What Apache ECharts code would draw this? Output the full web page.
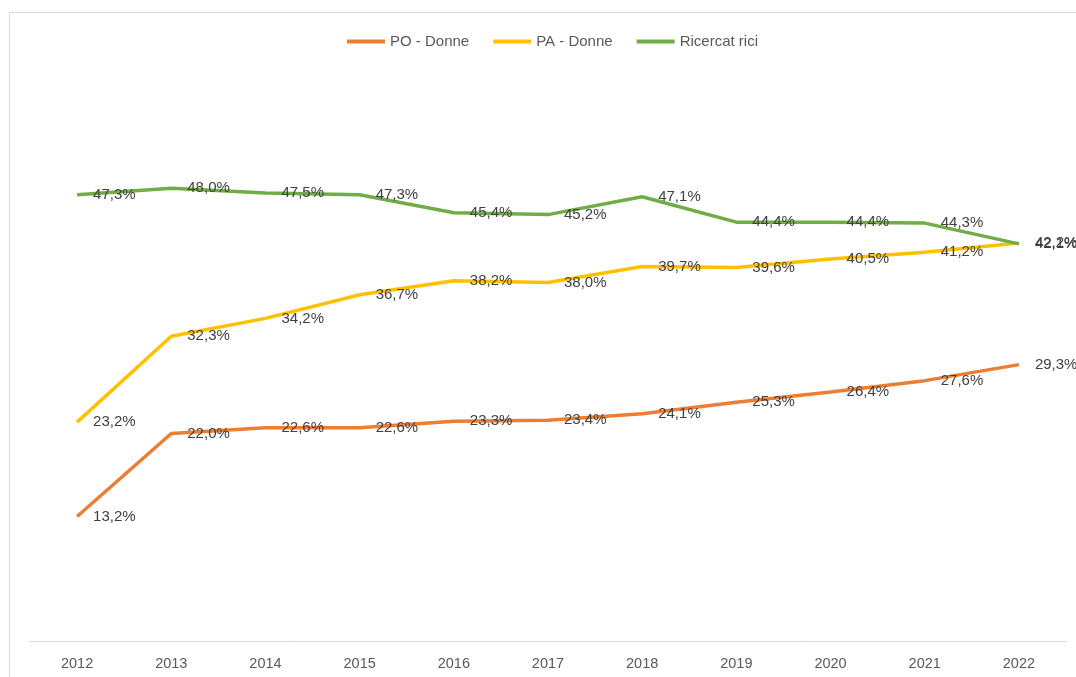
<!DOCTYPE html>
<html>
<head>
<meta charset="utf-8">
<script src="https://cdn.jsdelivr.net/npm/echarts@6/dist/echarts.min.js"></script>
<style>
html,body{margin:0;padding:0;background:#fff;}
#c{width:1076px;height:677px;}
</style>
</head>
<body>
<div id="c"></div>
<script>
const years = ['2012','2013','2014','2015','2016','2017','2018','2019','2020','2021','2022'];
const poDonne = [13.2, 22.0, 22.6, 22.6, 23.3, 23.4, 24.1, 25.3, 26.4, 27.6, 29.3];
const paDonne = [23.2, 32.3, 34.2, 36.7, 38.2, 38.0, 39.7, 39.6, 40.5, 41.2, 42.2];
const ricercatrici = [47.3, 48.0, 47.5, 47.3, 45.4, 45.2, 47.1, 44.4, 44.4, 44.3, 42.1];
const seriesNames = ['PO - Donne', 'PA - Donne', 'Ricercat rici'];
const colors = ['#ED7D31', '#FFC000', '#70AD47'];

const fontFam = '"Liberation Sans", "DejaVu Sans", sans-serif';
function mk(name, data, color){
  return {
    name: name, type: 'line', data: data,
    symbol: 'circle', symbolSize: 0.01, showSymbol: true, smooth: false,
    lineStyle: {color: color, width: 3.5},
    itemStyle: {color: color},
    label: {
      show: true, position: 'right', distance: 16, offset: [0, 3],
      color: '#404040', fontSize: 15, fontFamily: fontFam,
      formatter: p => p.value.toFixed(1).replace('.', ',') + '%'
    },
    labelLayout: {hideOverlap: false}
  };
}
const chart = echarts.init(document.getElementById('c'));
chart.setOption({
  animation: false,
  backgroundColor: '#fff',
  graphic: [{
    type: 'rect', shape: {x: 9.5, y: 12.5, width: 1200, height: 800},
    style: {fill: 'none', stroke: '#d9d9d9', lineWidth: 1}, silent: true, z: -1
  }],
  legend: {
    top: 29, left: 342,
    itemWidth: 38, itemHeight: 4, itemGap: 24,
    icon: 'rect',
    textStyle: {color: '#595959', fontSize: 15, fontFamily: fontFam},
    data: seriesNames
  },
  grid: {left: 30, right: 10, top: 75, bottom: 36},
  xAxis: {
    type: 'category', data: years, boundaryGap: true,
    axisLine: {lineStyle: {color: '#d9d9d9', width: 1}},
    axisTick: {show: false},
    axisLabel: {color: '#595959', fontSize: 14.5, fontFamily: fontFam, margin: 15}
  },
  yAxis: {
    type: 'value', min: 0, max: 60, interval: 10, show: false,
    splitLine: {show: false}
  },
  series: [
    mk(seriesNames[0], poDonne, colors[0]),
    mk(seriesNames[1], paDonne, colors[1]),
    mk(seriesNames[2], ricercatrici, colors[2])
  ]
});
</script>
</body>
</html>
